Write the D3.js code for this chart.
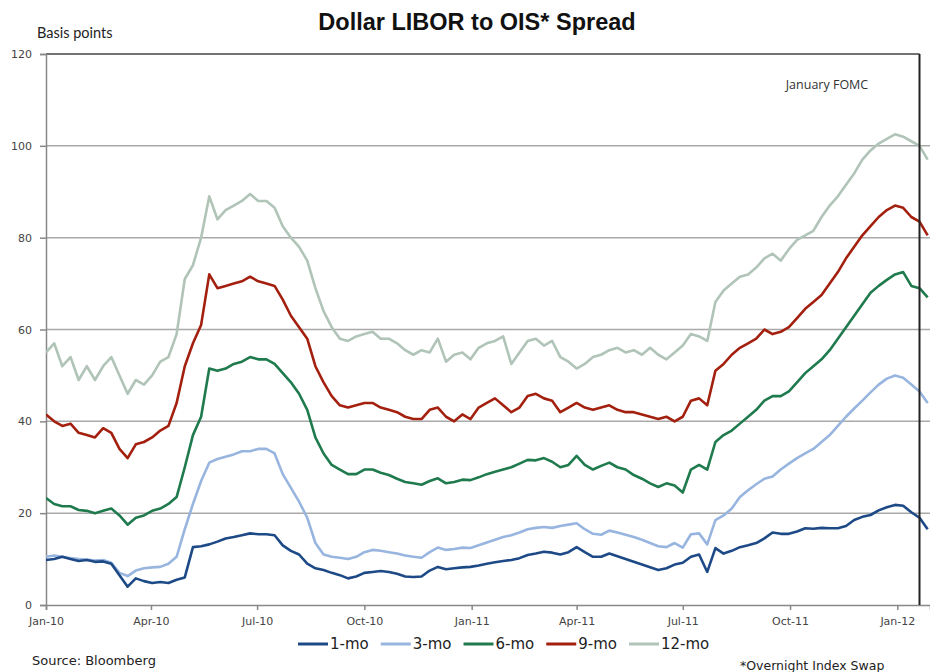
<!DOCTYPE html>
<html>
<head>
<meta charset="utf-8">
<script src="https://cdn.jsdelivr.net/npm/d3@7"></script>
<style>
  html, body { margin: 0; padding: 0; background: #fff; }
  svg { display: block; }
</style>
</head>
<body>
<svg id="chart" width="930" height="672"></svg>
<script>
// Weekly observations of the LIBOR-OIS spread (basis points), starting 1 Jan 2010
const startDate = new Date(2010, 0, 1);
const endDate = new Date(2012, 0, 29);
const fomcDate = new Date(2012, 0, 20);

const seriesNames = ["1-mo", "3-mo", "6-mo", "9-mo", "12-mo"];
const seriesColors = ["#1d4a86", "#98b5df", "#1f7a4d", "#a3200f", "#b0c4b8"];

const oneMonth = [
  9.8, 10, 10.5, 10, 9.6, 9.8, 9.4, 9.5, 9, 6.5,
  4, 5.8, 5.2, 4.8, 5, 4.8, 5.5, 6, 12.6, 12.8,
  13.2, 13.8, 14.5, 14.8, 15.2, 15.6, 15.4, 15.4, 15.2, 13,
  11.8, 11, 9, 8, 7.6, 7, 6.5, 5.8, 6.2, 7,
  7.2, 7.4, 7.2, 6.8, 6.2, 6.1, 6.2, 7.5, 8.3, 7.8,
  8, 8.2, 8.3, 8.6, 9, 9.3, 9.6, 9.8, 10.2, 10.9,
  11.2, 11.6, 11.4, 11, 11.5, 12.6, 11.5, 10.5, 10.5, 11.2,
  10.6, 10, 9.4, 8.8, 8.2, 7.6, 8, 8.8, 9.2, 10.5,
  11, 7.2, 12.4, 11.2, 11.8, 12.6, 13, 13.5, 14.5, 15.8,
  15.5, 15.5, 16, 16.7, 16.6, 16.8, 16.7, 16.7, 17.2, 18.5,
  19.2, 19.6, 20.6, 21.3, 21.8, 21.6, 20.2, 19, 16.5
];

const threeMonth = [
  10.5, 10.8, 10.5, 10.2, 10, 9.9, 9.7, 9.8, 9.2, 7,
  6.3, 7.5, 8, 8.2, 8.3, 9, 10.5, 16.5, 22, 27,
  31, 31.8, 32.3, 32.8, 33.5, 33.5, 34, 34, 33, 28.5,
  25.5, 22.5, 19, 13.5, 11, 10.5, 10.3, 10, 10.5, 11.5,
  12, 11.8, 11.5, 11.2, 10.8, 10.5, 10.3, 11.5, 12.5, 12,
  12.2, 12.5, 12.4, 13, 13.6, 14.2, 14.8, 15.2, 15.8, 16.5,
  16.8, 17, 16.8, 17.2, 17.5, 17.8, 16.5, 15.5, 15.3, 16.2,
  15.8, 15.3, 14.8, 14.2, 13.5, 12.8, 12.6, 13.5, 12.5, 15.4,
  15.6, 13.2, 18.5, 19.5, 21, 23.5, 25, 26.3, 27.5, 28,
  29.5, 30.8, 32, 33, 34, 35.5, 37, 39, 41, 42.8,
  44.5, 46.3, 48, 49.3, 50, 49.5, 48, 46.5, 44
];

const sixMonth = [
  23.3, 22, 21.5, 21.5, 20.7, 20.5, 20, 20.5, 21, 19.5,
  17.5, 19, 19.5, 20.5, 21, 22, 23.5, 30, 37, 41,
  51.5, 51, 51.5, 52.5, 53, 54, 53.5, 53.5, 52.5, 50.5,
  48.5, 46, 42.5, 36.5, 33, 30.5, 29.5, 28.5, 28.5, 29.5,
  29.5, 28.8, 28.3, 27.5, 26.8, 26.5, 26.2, 27, 27.6, 26.5,
  26.8, 27.3, 27.2, 27.8, 28.5, 29, 29.5, 30, 30.8, 31.6,
  31.5, 32, 31.2, 30, 30.5, 32.5, 30.5, 29.5, 30.3, 31,
  30, 29.5, 28.3, 27.5, 26.5, 25.7, 26.5, 26, 24.5, 29.5,
  30.5, 29.5, 35.5, 37, 38, 39.5, 41, 42.5, 44.5, 45.5,
  45.5, 46.5, 48.5, 50.5, 52, 53.5, 55.5, 58, 60.5, 63,
  65.5, 68, 69.5, 70.8, 72, 72.5, 69.5, 69, 67
];

const nineMonth = [
  41.5, 40, 39, 39.5, 37.5, 37, 36.5, 38.5, 37.5, 34,
  32, 35, 35.5, 36.5, 38, 39, 44, 52, 57, 61,
  72, 69, 69.5, 70, 70.5, 71.5, 70.5, 70, 69.5, 66.5,
  63, 60.5, 58, 52, 48.5, 45.5, 43.5, 43, 43.5, 44,
  44, 43, 42.5, 42, 41, 40.5, 40.5, 42.5, 43, 41,
  40, 41.5, 40.5, 43, 44, 45, 43.5, 42, 43, 45.5,
  46, 45, 44.5, 42, 43, 44, 43, 42.5, 43, 43.5,
  42.5, 42, 42, 41.5, 41, 40.5, 41, 40, 41, 44.5,
  45, 43.5, 51, 52.5, 54.5, 56, 57, 58, 60, 59,
  59.5, 60.5, 62.5, 64.5, 66, 67.5, 70, 72.5, 75.5, 78,
  80.5, 82.5, 84.5, 86, 87, 86.5, 84.5, 83.5, 80.5
];

const twelveMonth = [
  55, 57, 52, 54, 49, 52, 49, 52, 54, 50,
  46, 49, 48, 50, 53, 54, 59, 71, 74, 80,
  89, 84, 86, 87, 88, 89.5, 88, 88, 86.5, 82.5,
  80, 78, 75, 69, 64, 60.5, 58, 57.5, 58.5, 59,
  59.5, 58, 58, 57, 55.5, 54.5, 55.5, 55, 58, 53,
  54.5, 55, 53.5, 56, 57, 57.5, 58.5, 52.5, 55, 57.5,
  58, 56.5, 57.5, 54, 53, 51.5, 52.5, 54, 54.5, 55.5,
  56, 55, 55.5, 54.5, 56, 54.5, 53.5, 55, 56.5, 59,
  58.5, 57.5, 66, 68.5, 70, 71.5, 72, 73.5, 75.5, 76.5,
  75, 77.5, 79.5, 80.5, 81.5, 84.5, 87, 89, 91.5, 94,
  97, 99, 100.5, 101.5, 102.5, 102, 101, 100, 97
];

const yTicks = [0, 20, 40, 60, 80, 100, 120];
const xTickLabels = ["Jan-10", "Apr-10", "Jul-10", "Oct-10", "Jan-11", "Apr-11", "Jul-11", "Oct-11", "Jan-12"];
const xTickDates = [
  new Date(2010, 0, 1), new Date(2010, 3, 1), new Date(2010, 6, 1), new Date(2010, 9, 1),
  new Date(2011, 0, 1), new Date(2011, 3, 1), new Date(2011, 6, 1), new Date(2011, 9, 1),
  new Date(2012, 0, 1)
];

const allSeries = [oneMonth, threeMonth, sixMonth, nineMonth, twelveMonth];
const dates = d3.range(oneMonth.length).map(i => d3.timeDay.offset(startDate, 7 * i));

// ---- layout ----
const svg = d3.select("#chart");
const plot = { left: 46, right: 930, top: 54, bottom: 605 };

const x = d3.scaleTime().domain([startDate, endDate]).range([plot.left, plot.right]);
const y = d3.scaleLinear().domain([0, 120]).range([plot.bottom, plot.top]);

const axisFont = "'DejaVu Sans', Verdana, sans-serif";

// Title and axis caption
svg.append("text")
  .attr("x", 477).attr("y", 30)
  .attr("text-anchor", "middle")
  .attr("font-family", "'Liberation Sans', Arial, sans-serif")
  .attr("font-weight", "bold")
  .attr("font-size", 23.5)
  .attr("fill", "#111")
  .text("Dollar LIBOR to OIS* Spread");

svg.append("text")
  .attr("x", 37).attr("y", 38)
  .attr("font-family", "Lato, sans-serif")
  .attr("font-size", 14.5)
  .attr("fill", "#222")
  .text("Basis points");

// Horizontal gridlines
svg.append("g")
  .selectAll("line")
  .data(yTicks.filter(d => d > 0 && d < 120))
  .join("line")
  .attr("x1", plot.left).attr("x2", plot.right)
  .attr("y1", d => y(d)).attr("y2", d => y(d))
  .attr("stroke", "#a9a9a9")
  .attr("stroke-width", 1.5);

// Top frame line
svg.append("line")
  .attr("x1", plot.left).attr("x2", x(fomcDate))
  .attr("y1", y(120)).attr("y2", y(120))
  .attr("stroke", "#444").attr("stroke-width", 1.5);

// Y axis
const yAxis = d3.axisLeft(y).tickValues(yTicks).tickSize(6).tickPadding(8);
const gy = svg.append("g")
  .attr("transform", `translate(${plot.left},0)`)
  .call(yAxis);
gy.select(".domain").attr("stroke", "#888").attr("stroke-width", 1.5);
gy.selectAll(".tick line").attr("stroke", "#888").attr("stroke-width", 1.5);
gy.selectAll(".tick text")
  .attr("font-family", axisFont).attr("font-size", 11).attr("fill", "#444");

// X axis
const xAxis = d3.axisBottom(x)
  .tickValues(xTickDates)
  .tickFormat((d, i) => xTickLabels[i])
  .tickSize(5).tickPadding(7);
const gx = svg.append("g")
  .attr("transform", `translate(0,${plot.bottom})`)
  .call(xAxis);
gx.select(".domain").attr("stroke", "#888").attr("stroke-width", 1.5);
gx.selectAll(".tick line").attr("stroke", "#888").attr("stroke-width", 1.5);
gx.selectAll(".tick text")
  .attr("font-family", axisFont).attr("font-size", 11).attr("fill", "#444");

// Series lines
svg.append("clipPath").attr("id", "plotClip")
  .append("rect")
  .attr("x", plot.left).attr("y", plot.top - 5)
  .attr("width", plot.right - plot.left).attr("height", plot.bottom - plot.top + 5);

const line = d3.line()
  .x((d, i) => x(dates[i]))
  .y(d => y(d));

svg.append("g")
  .attr("clip-path", "url(#plotClip)")
  .selectAll("path")
  .data(allSeries.map((values, k) => ({ values, k })).reverse())
  .join("path")
  .attr("d", d => line(d.values))
  .attr("fill", "none")
  .attr("stroke", d => seriesColors[d.k])
  .attr("stroke-width", 2.6)
  .attr("stroke-linejoin", "round");

// FOMC marker
svg.append("line")
  .attr("x1", x(fomcDate)).attr("x2", x(fomcDate))
  .attr("y1", y(120)).attr("y2", y(0))
  .attr("stroke", "#222").attr("stroke-width", 2);

svg.append("text")
  .attr("x", 827).attr("y", 89)
  .attr("text-anchor", "middle")
  .attr("font-family", "'Open Sans', sans-serif")
  .attr("font-size", 12.5)
  .attr("fill", "#333")
  .text("January FOMC");

// Legend
const legend = svg.append("g").attr("transform", "translate(298,644)");
let lx = 0;
seriesNames.forEach((name, k) => {
  legend.append("line")
    .attr("x1", lx).attr("x2", lx + 30)
    .attr("y1", 0).attr("y2", 0)
    .attr("stroke", seriesColors[k]).attr("stroke-width", 3);
  const t = legend.append("text")
    .attr("x", lx + 32).attr("y", 0)
    .attr("dy", "0.35em")
    .attr("font-family", axisFont)
    .attr("font-size", 15)
    .attr("fill", "#222")
    .text(name);
  lx += 32 + t.node().getComputedTextLength() + 12;
});

// Notes
svg.append("text")
  .attr("x", 32).attr("y", 665)
  .attr("font-family", axisFont)
  .attr("font-size", 13)
  .attr("fill", "#222")
  .text("Source: Bloomberg");

svg.append("text")
  .attr("x", 740).attr("y", 670)
  .attr("font-family", axisFont)
  .attr("font-size", 12.5)
  .attr("fill", "#222")
  .text("*Overnight Index Swap");
</script>
</body>
</html>
